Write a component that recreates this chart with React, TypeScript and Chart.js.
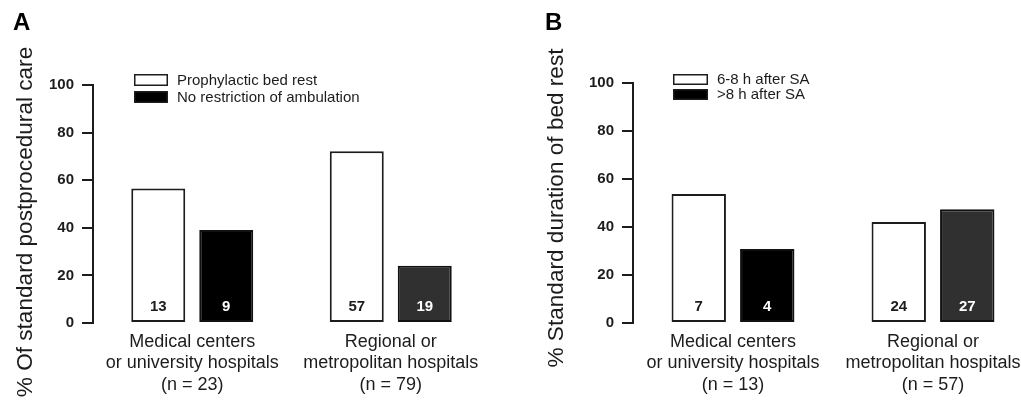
import React, { useEffect, useRef } from "react";
import { Chart, registerables } from "chart.js";

Chart.register(...registerables);

const FONT = '"Liberation Sans", Arial, Helvetica, sans-serif';
const INK = "#1c1c1c";

// ---------- Panel A data ----------
const categoriesA = [
  ["Medical centers", "or university hospitals", "(n = 23)"],
  ["Regional or", "metropolitan hospitals", "(n = 79)"],
];
const seriesNamesA = ["Prophylactic bed rest", "No restriction of ambulation"];
const prophylacticPct = [56.5, 72.2];
const noRestrictionPct = [39.1, 24.1];
const prophylacticN = [13, 57];
const noRestrictionN = [9, 19];

// ---------- Panel B data ----------
const categoriesB = [
  ["Medical centers", "or university hospitals", "(n = 13)"],
  ["Regional or", "metropolitan hospitals", "(n = 57)"],
];
const seriesNamesB = ["6-8 h after SA", ">8 h after SA"];
const sixToEightPct = [53.8, 42.1];
const overEightPct = [30.8, 47.4];
const sixToEightN = [7, 24];
const overEightN = [4, 27];

const yMin = 0;
const yMax = 100;
const yStep = 20;

type PanelCfg = {
  letter: string;
  yTitle: string;
  categories: string[][];
  names: string[];
  s1: number[];
  s2: number[];
  n1: number[];
  n2: number[];
  left: number;
  canvasWidth: number;
  axisLeft: number;
  top: number;
  padRight: number;
  letterX: number;
  titleX: number;
  titleY: number;
  legendX: number;
  legendY: number[];
  legendW: number;
  legendH: number;
  legendTextX: number;
};

const panelA: PanelCfg = {
  letter: "A",
  yTitle: "% Of standard postprocedural care",
  categories: categoriesA,
  names: seriesNamesA,
  s1: prophylacticPct,
  s2: noRestrictionPct,
  n1: prophylacticN,
  n2: noRestrictionN,
  left: 0,
  canvasWidth: 510,
  axisLeft: 93,
  top: 85,
  padRight: 20,
  letterX: 13,
  titleX: 32,
  titleY: 222,
  legendX: 134,
  legendY: [74, 91],
  legendW: 34,
  legendH: 12,
  legendTextX: 177,
};

const panelB: PanelCfg = {
  letter: "B",
  yTitle: "% Standard duration of bed rest",
  categories: categoriesB,
  names: seriesNamesB,
  s1: sixToEightPct,
  s2: overEightPct,
  n1: sixToEightN,
  n2: overEightN,
  left: 510,
  canvasWidth: 540,
  axisLeft: 123,
  top: 83,
  padRight: 17,
  letterX: 35,
  titleX: 53,
  titleY: 208,
  legendX: 163,
  legendY: [74, 89],
  legendW: 35,
  legendH: 11,
  legendTextX: 207,
};

function decor(cfg: PanelCfg) {
  return {
    id: "decor" + cfg.letter,
    afterDraw(chart: any) {
      const ctx = chart.ctx as CanvasRenderingContext2D;
      ctx.save();
      // panel letter
      ctx.fillStyle = "#000";
      ctx.font = `bold 24px ${FONT}`;
      ctx.textAlign = "left";
      ctx.textBaseline = "alphabetic";
      ctx.fillText(cfg.letter, cfg.letterX, 30);

      // y title
      ctx.save();
      ctx.translate(cfg.titleX, cfg.titleY);
      ctx.rotate(-Math.PI / 2);
      ctx.font = `22.6px ${FONT}`;
      ctx.fillStyle = INK;
      ctx.textAlign = "center";
      ctx.textBaseline = "alphabetic";
      ctx.fillText(cfg.yTitle, 0, 0);
      ctx.restore();

      // legend
      const fills = ["#ffffff", "#000000"];
      cfg.names.forEach((name, i) => {
        const y = cfg.legendY[i];
        ctx.fillStyle = fills[i];
        ctx.fillRect(cfg.legendX, y, cfg.legendW, cfg.legendH);
        ctx.strokeStyle = INK;
        ctx.lineWidth = 1.5;
        ctx.strokeRect(cfg.legendX + 0.75, y + 0.75, cfg.legendW - 1.5, cfg.legendH - 1.5);
        ctx.fillStyle = INK;
        ctx.font = `15px ${FONT}`;
        ctx.textAlign = "left";
        ctx.textBaseline = "middle";
        ctx.fillText(name, cfg.legendTextX, y + cfg.legendH / 2 + 0.5);
      });

      // counts inside bars
      const zero = chart.scales.y.getPixelForValue(0);
      const counts = [cfg.n1, cfg.n2];
      const colors = [INK, "#ffffff"];
      ctx.font = `bold 15px ${FONT}`;
      ctx.textAlign = "center";
      ctx.textBaseline = "alphabetic";
      [0, 1].forEach((di) => {
        const meta = chart.getDatasetMeta(di);
        meta.data.forEach((el: any, j: number) => {
          ctx.fillStyle = colors[di];
          ctx.fillText(String(counts[di][j]), el.x, zero - 12);
        });
      });
      ctx.restore();
    },
  };
}

function Panel({ cfg }: { cfg: PanelCfg }) {
  const ref = useRef<HTMLCanvasElement>(null);
  useEffect(() => {
    const chart = new Chart(ref.current as HTMLCanvasElement, {
      type: "bar",
      data: {
        labels: cfg.categories as any,
        datasets: [
          {
            label: cfg.names[0],
            data: cfg.s1,
            backgroundColor: "#ffffff",
            borderColor: INK,
            borderWidth: 2,
            borderSkipped: false,
            categoryPercentage: 0.685,
            barPercentage: 0.794,
          },
          {
            label: cfg.names[1],
            data: cfg.s2,
            backgroundColor: ["#000000", "#303030"],
            borderColor: "#111111",
            borderWidth: 2,
            borderSkipped: false,
            categoryPercentage: 0.685,
            barPercentage: 0.794,
          },
        ],
      },
      options: {
        responsive: false,
        animation: false,
        layout: { padding: { top: cfg.top, right: cfg.padRight, left: 0, bottom: 0 } },
        plugins: {
          legend: { display: false },
          tooltip: { enabled: false },
          title: { display: false },
        },
        scales: {
          x: {
            grid: { display: false, drawTicks: false, tickLength: 0 },
            border: { display: false },
            ticks: {
              color: INK,
              font: { family: FONT, size: 18, lineHeight: 1.2 },
              padding: 8,
              maxRotation: 0,
              autoSkip: false,
            },
            afterFit: (s: any) => {
              s.height = 402 - 323;
            },
          },
          y: {
            min: yMin,
            max: yMax,
            ticks: {
              stepSize: yStep,
              color: INK,
              font: { family: FONT, size: 15, weight: "bold" },
              padding: 8,
            },
            grid: {
              drawOnChartArea: false,
              drawTicks: true,
              tickLength: 11,
              color: INK,
              lineWidth: 2,
            },
            border: { display: true, color: INK, width: 2 },
            afterFit: (s: any) => {
              s.width = cfg.axisLeft;
            },
          },
        },
      } as any,
      plugins: [decor(cfg)],
    });
    return () => chart.destroy();
  }, []);
  return (
    <canvas
      ref={ref}
      width={cfg.canvasWidth}
      height={402}
      style={{ position: "absolute", left: cfg.left, top: 0, width: cfg.canvasWidth, height: 402 }}
    />
  );
}

export default function App() {
  return (
    <div
      style={{
        position: "fixed",
        left: 0,
        top: 0,
        width: 1021,
        height: 402,
        overflow: "hidden",
        background: "#ffffff",
      }}
    >
      <Panel cfg={panelA} />
      <Panel cfg={panelB} />
    </div>
  );
}
